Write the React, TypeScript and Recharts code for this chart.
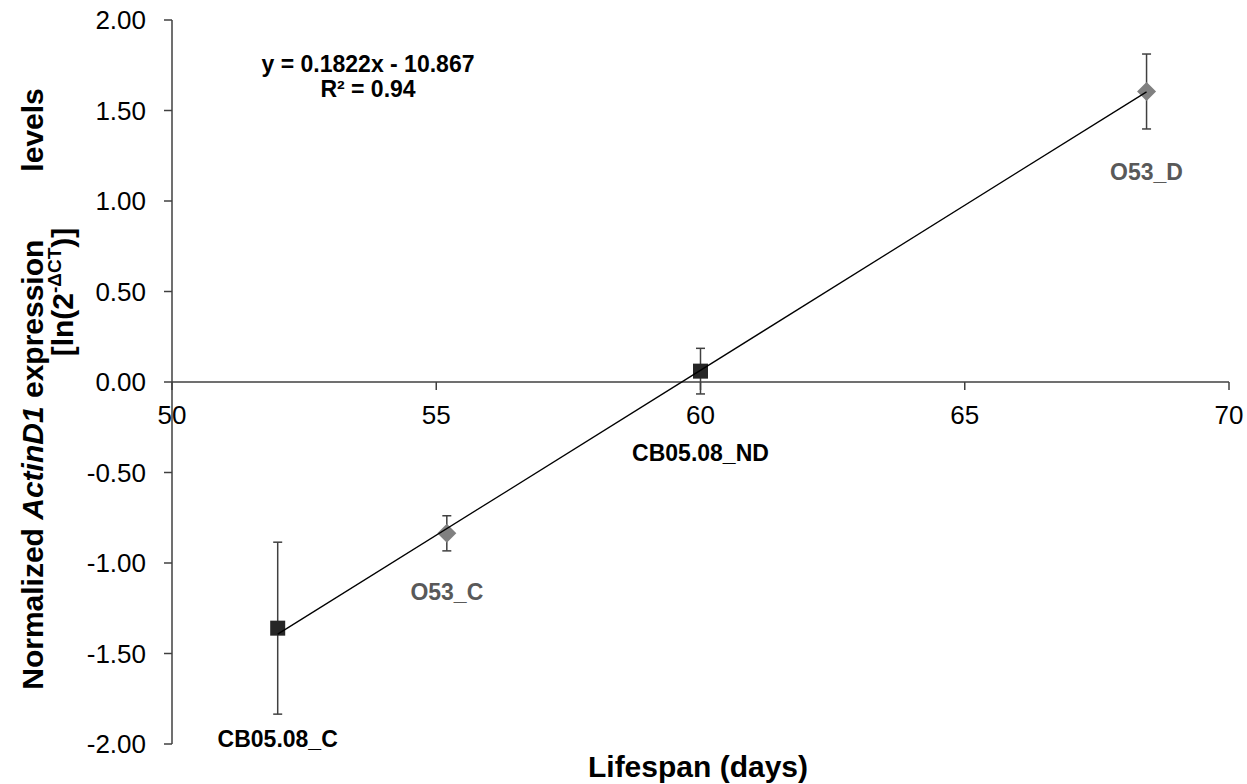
import React from 'react';
import { ScatterChart, Scatter, XAxis, YAxis, ErrorBar, ReferenceLine } from 'recharts';

// ---- data ----
const cbPoints = [
  { x: 52.0, y: -1.36, err: 0.475, name: 'CB05.08_C' },
  { x: 60.0, y: 0.06, err: 0.126, name: 'CB05.08_ND' },
];
const o53Points = [
  { x: 55.2, y: -0.836, err: 0.097, name: 'O53_C' },
  { x: 68.44, y: 1.605, err: 0.207, name: 'O53_D' },
];
// trend line y = 0.1822x - 10.867 drawn between the outermost points
const trendPoints = [
  { x: 52.0, y: -1.393 },
  { x: 68.44, y: 1.603 },
];
const xTicks = [50, 55, 60, 65, 70];
const yTicks = [-2, -1.5, -1, -0.5, 0, 0.5, 1, 1.5, 2];
const equationText = 'y = 0.1822x - 10.867';
const r2Text = 'R² = 0.94';
const xTitle = 'Lifespan (days)';

// ---- styling ----
const FONT = '"Liberation Sans", Arial, sans-serif';
const AXIS_COLOR = '#404040';
const labelOffset: Record<string, number> = {
  'CB05.08_C': 119,
  'CB05.08_ND': 90,
  'O53_C': 67,
  'O53_D': 89,
};

const SquareShape = (p: any) => {
  const { cx, cy, payload } = p;
  return (
    <g>
      <rect x={cx - 7.5} y={cy - 7.5} width={15} height={15} fill="#262626" />
      <text x={cx} y={cy + labelOffset[payload.name]} textAnchor="middle" fontFamily={FONT}
        fontWeight="bold" fontSize={23} fill="#000">{payload.name}</text>
    </g>
  );
};

const DiamondShape = (p: any) => {
  const { cx, cy, payload } = p;
  const h = 9.5;
  return (
    <g>
      <polygon points={`${cx},${cy - h} ${cx + h},${cy} ${cx},${cy + h} ${cx - h},${cy}`} fill="#808080" />
      <text x={cx} y={cy + labelOffset[payload.name]} textAnchor="middle" fontFamily={FONT}
        fontWeight="bold" fontSize={23} fill="#595959">{payload.name}</text>
    </g>
  );
};

const XTickShape = (p: any) => {
  const { cx, cy, payload } = p;
  return (
    <g>
      <line x1={cx} y1={cy} x2={cx} y2={cy + 8} stroke={AXIS_COLOR} strokeWidth={1.5} />
      <text x={cx} y={cy + 42} textAnchor="middle" fontFamily={FONT} fontSize={26} fill="#000">
        {payload.x}
      </text>
    </g>
  );
};

const NoShape = () => <g />;

export default function App() {
  const xTickData = xTicks.map((t) => ({ x: t, y: 0 }));
  return (
    <div style={{ position: 'absolute', left: 0, top: 0, width: 1247, height: 784, background: '#fff' }}>
      <ScatterChart width={1247} height={784} margin={{ top: 20, right: 18, bottom: 40, left: 0 }}>
        <XAxis type="number" dataKey="x" domain={[50, 70]} ticks={xTicks} hide />
        <YAxis
          type="number"
          dataKey="y"
          domain={[-2, 2]}
          ticks={yTicks}
          width={172}
          tickFormatter={(v: number) => v.toFixed(2)}
          tick={{ fontSize: 26, fontFamily: FONT, fill: '#000' }}
          tickSize={8}
          tickMargin={18}
          tickLine={{ stroke: AXIS_COLOR, strokeWidth: 1.5 }}
          axisLine={{ stroke: AXIS_COLOR, strokeWidth: 1.5 }}
        />
        <ReferenceLine y={0} stroke={AXIS_COLOR} strokeWidth={1.5} />
        <Scatter data={xTickData} shape={XTickShape} isAnimationActive={false} />
        <Scatter data={cbPoints} shape={SquareShape} isAnimationActive={false}>
          <ErrorBar dataKey="err" direction="y" width={4.5} stroke={AXIS_COLOR} strokeWidth={1.5} />
        </Scatter>
        <Scatter data={o53Points} shape={DiamondShape} isAnimationActive={false}>
          <ErrorBar dataKey="err" direction="y" width={4.5} stroke={AXIS_COLOR} strokeWidth={1.5} />
        </Scatter>
        <Scatter data={trendPoints} shape={NoShape} line={{ stroke: '#000', strokeWidth: 1.3 }}
          isAnimationActive={false} />
      </ScatterChart>
      <svg width={1247} height={784} style={{ position: 'absolute', left: 0, top: 0, pointerEvents: 'none' }}>
        <text x={368} y={72} textAnchor="middle" fontFamily={FONT} fontWeight="bold" fontSize={23} fill="#000">
          {equationText}
        </text>
        <text x={368} y={97} textAnchor="middle" fontFamily={FONT} fontWeight="bold" fontSize={23} fill="#000">
          {r2Text}
        </text>
        <text x={698} y={777} textAnchor="middle" fontFamily={FONT} fontWeight="bold" fontSize={30} fill="#000">
          {xTitle}
        </text>
        <text transform="rotate(-90, 43, 389)" x={43} y={389} textAnchor="middle" fontFamily={FONT}
          fontWeight="bold" fontSize={30} fill="#000">
          <tspan>Normalized </tspan>
          <tspan fontStyle="italic">ActinD1</tspan>
          <tspan> expression</tspan>
          <tspan dx={68}>levels</tspan>
        </text>
        <text transform="rotate(-90, 73, 292)" x={73} y={292} textAnchor="middle" fontFamily={FONT}
          fontWeight="bold" fontSize={30} fill="#000">
          <tspan>[ln(2</tspan>
          <tspan fontSize={19} dy={-12}>-ΔCT</tspan>
          <tspan dy={12}>)]</tspan>
        </text>
      </svg>
    </div>
  );
}
